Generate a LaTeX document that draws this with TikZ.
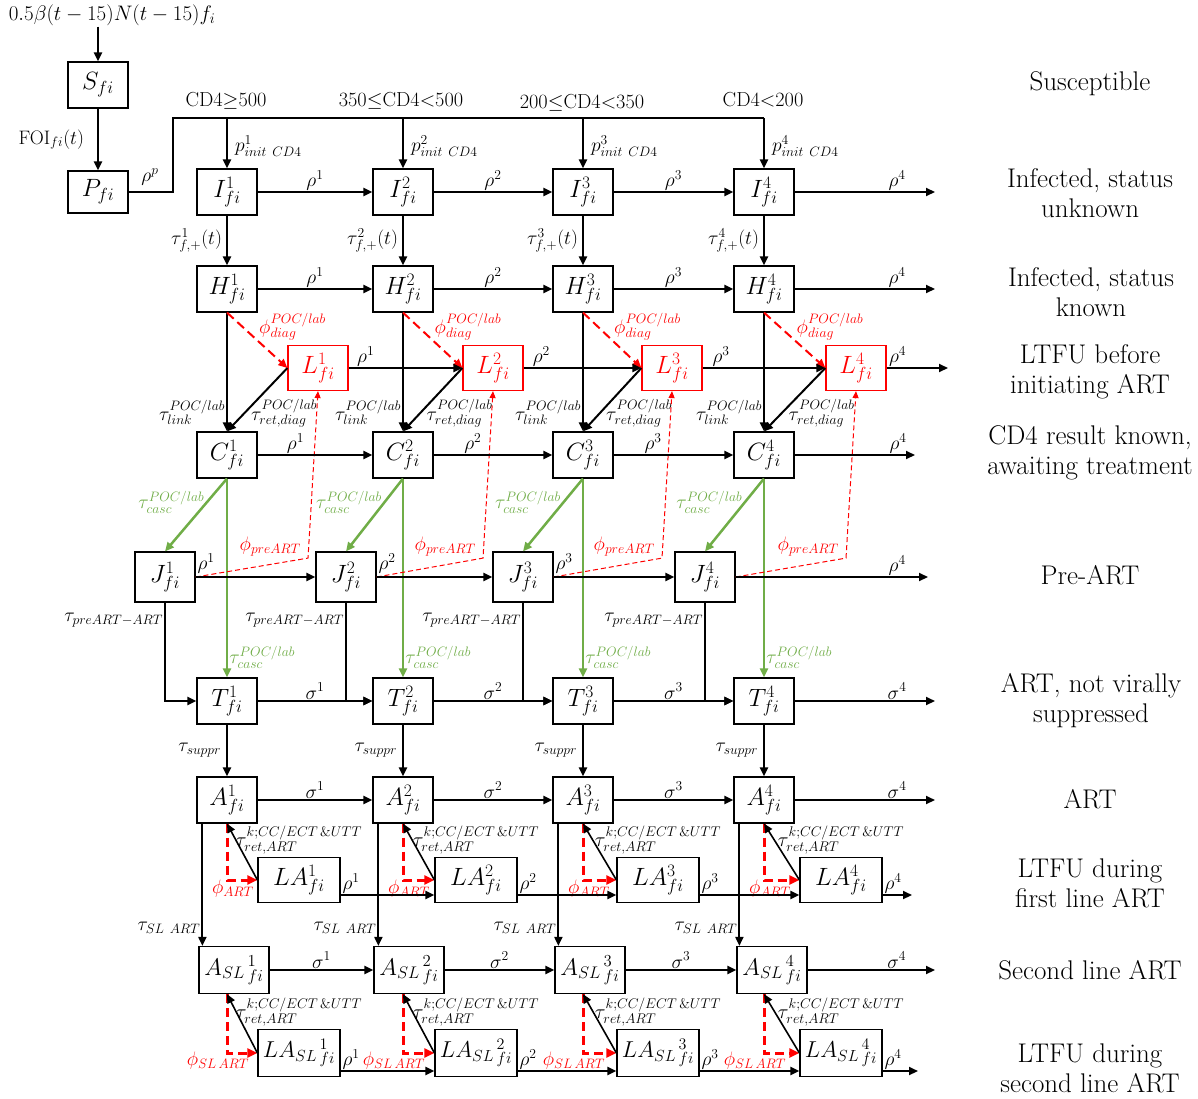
\RequirePackage{fix-cm}
\documentclass[tikz,border=0pt]{standalone}
\usetikzlibrary{arrows.meta,calc}
\definecolor{offgreen}{HTML}{70AD47}
\definecolor{pured}{HTML}{FF0000}
\tikzset{
 box/.style={draw, line width=1.2pt, minimum width=60pt, minimum height=46pt, inner sep=0pt, font=\fontsize{25}{29}\selectfont},
 arr/.style={line width=2pt, -{Triangle[length=9pt,width=8pt]}},
 lab/.style={font=\fontsize{19.5}{22}\selectfont, inner sep=1pt},
 redlab/.style={lab, text=pured},
 glab/.style={lab, text=offgreen},
 rlab/.style={font=\fontsize{27}{30}\selectfont, align=center},
 cdlab/.style={font=\fontsize{20.3}{23}\selectfont},
 rdash/.style={draw=pured, line width=2pt, dash pattern=on 9pt off 5pt, -{Triangle[length=9pt,width=8pt]}},
 rthin/.style={draw=pured, line width=1pt, dash pattern=on 5pt off 3pt, -{Triangle[length=7pt,width=6pt]}},
 rthick/.style={draw=pured, line width=3pt, dash pattern=on 9pt off 5pt, -{Triangle[length=10pt,width=9pt]}},
 garr/.style={draw=offgreen, line width=2.5pt, -{Triangle[length=9pt,width=8pt]}},
 klab/.style={lab, font=\fontsize{20}{22}\selectfont},
}
\begin{document}
\begin{tikzpicture}[x=1pt,y=-1pt]
\useasboundingbox (0,0) rectangle (1198,1099);

% source, S, P
\node[lab, font=\fontsize{21}{24}\selectfont] (src) at (112,15) {$0.5\beta(t-15)N(t-15)f_i$};
\node[box] (S) at (98,85) {$S_{fi}$};
\node[box, minimum height=42pt] (P) at (98,192) {$P_{fi}$};
\draw[arr] (S |- src.south) -- (S);
\draw[arr] (S) -- node[lab, left, xshift=-12pt]{$\mathrm{FOI}_{fi}(t)$} (P);
\coordinate (b0) at (173,118);
\coordinate (b1) at (764,118);
\draw[line width=2pt] (P.east) -- (b0 |- P.east) -- (b0) -- (b1);
\node[lab] (rp) at (150,177) {$\rho^{p}$};

% CD4 labels
\node[cdlab] (cd1) at (226,101) {CD4$\geq$500};
\node[cdlab] (cd2) at (401,101) {350$\leq$CD4$<$500};
\node[cdlab] (cd3) at (582,103) {200$\leq$CD4$<$350};
\node[cdlab] (cd4) at (763,100) {CD4$<$200};

% nodes
\foreach \k/\cx/\lx/\jx/\lax/\ax in {1/227/318/165/299/234, 2/403/493/346/476/409, 3/583/672/523/658/590, 4/764/856/705/841/772}{
 \node[box] (I\k) at (\cx,192) {$I^{\k}_{fi}$};
 \node[box] (H\k) at (\cx,289) {$H^{\k}_{fi}$};
 \node[box, draw=pured, text=pured, minimum height=45pt] (L\k) at (\lx,368) {$L^{\k}_{fi}$};
 \node[box] (C\k) at (\cx,455) {$C^{\k}_{fi}$};
 \node[box, minimum height=50pt] (J\k) at (\jx,577) {$J^{\k}_{fi}$};
 \node[box] (T\k) at (\cx,701) {$T^{\k}_{fi}$};
 \node[box] (A\k) at (\cx,800) {$A^{\k}_{fi}$};
 \node[box, minimum width=82pt, minimum height=45pt] (LA\k) at (\lax,880) {$LA^{\k}_{fi}$};
 \node[box, minimum width=70pt, minimum height=47pt, font=\fontsize{24}{28}\selectfont] (AS\k) at (\ax,970) {$A_{SL\,}{}^{\k}_{fi}$};
 \node[box, minimum width=82pt, minimum height=47pt, font=\fontsize{23}{27}\selectfont] (LS\k) at (\lax,1053) {$LA_{SL\,}{}^{\k}_{fi}$};
}

% per-column edges
\foreach \k in {1,2,3,4}{
 \draw[arr] (I\k |- b0) -- node[lab, right, xshift=6pt, pos=0.55]{$p^{\k}_{init\ CD4}$} (I\k);
 \draw[arr] (I\k) -- node[lab, left, xshift=-3pt]{$\tau^{\k}_{f,+}(t)$} (H\k);
 \draw[arr] (H\k) -- node[lab, left, pos=0.84]{$\tau^{POC/lab}_{link}$} (C\k);
 \draw[rdash] (H\k.south) -- node[redlab, pos=0.5, anchor=south west, yshift=-2pt]{$\phi^{POC/lab}_{diag}$} (L\k.west);
 \draw[arr] (L\k.west) -- node[lab, pos=0.5, anchor=north west, xshift=-8pt, yshift=2pt]{$\tau^{POC/lab}_{ret,diag}$} (C\k.north);
 \draw[garr] (C\k.south) -- node[glab, left, pos=0.33]{$\tau^{POC/lab}_{casc}$} (J\k.north);
 \draw[garr] (C\k.south) -- node[glab, right, pos=0.9]{$\tau^{POC/lab}_{casc}$} (T\k.north);
 \coordinate (jc\k) at ($(L\k.south)+(-10,167)$);
 \draw[rthin] (J\k.east) -- (jc\k) -- (L\k.south);
 \node[redlab, anchor=east] (pp\k) at ($(L\k.south)+(-16,155)$) {$\phi_{preART}$};
 \draw[arr] (J\k.south) |- node[lab, left, pos=0.09]{$\tau_{preART-ART}$} (T\k.west);
 \draw[arr] (T\k) -- node[lab, left, xshift=-4pt]{$\tau_{suppr}$} (A\k);
 \coordinate (ad\k) at ([xshift=6pt]A\k.south west);
 \draw[arr] (ad\k) -- node[lab, left, pos=0.85]{$\tau_{SL\ ART}$} (ad\k |- AS\k.north);
 \draw[rthick] (A\k.south) |- (LA\k.west);
 \node[redlab] (pa\k) at ($(A\k.south |- LA\k.west)+(6,9)$) {$\phi_{ART}$};
 \draw[arr, line width=1.6pt] (LA\k.west) -- (A\k.south);
 \node[klab] (ra\k) at ($(LA\k.north)+(0,-17)$) {$\tau^{k;CC/ECT\,\&UTT}_{ret,ART}$};
 \coordinate (as\k) at (A\k.south |- AS\k.south);
 \draw[rthick] (as\k) |- (LS\k.west);
 \node[redlab] (ps\k) at ($(as\k |- LS\k.west)+(-9,8)$) {$\phi_{SL\,ART}$};
 \draw[arr, line width=1.6pt] (LS\k.west) -- (as\k);
 \node[klab] (rs\k) at ($(LS\k.north)+(0,-17)$) {$\tau^{k;CC/ECT\,\&UTT}_{ret,ART}$};
}

% horizontal progression
\foreach \k/\n in {1/2,2/3,3/4}{
 \draw[arr] (I\k) -- node[lab, above]{$\rho^{\k}$} (I\n);
 \draw[arr] (H\k) -- node[lab, above]{$\rho^{\k}$} (H\n);
 \draw[arr] (L\k) -- node[lab, above, pos=0.15]{$\rho^{\k}$} (L\n);
 \draw[arr] (C\k) -- node[lab, above, pos=0.33]{$\rho^{\k}$} (C\n);
 \draw[arr] (J\k) -- node[lab, above right, pos=0, yshift=2pt]{$\rho^{\k}$} (J\n);
 \draw[arr] (T\k) -- node[lab, above]{$\sigma^{\k}$} (T\n);
 \draw[arr] (A\k) -- node[lab, above]{$\sigma^{\k}$} (A\n);
 \draw[arr] ([yshift=-15pt]LA\k.east) -- node[lab, above right, pos=0]{$\rho^{\k}$} ([yshift=-15pt]LA\n.west);
 \draw[arr] (AS\k) -- node[lab, above]{$\sigma^{\k}$} (AS\n);
 \draw[arr] ([yshift=-18pt]LS\k.east) -- node[lab, above right, pos=0]{$\rho^{\k}$} ([yshift=-18pt]LS\n.west);
}

% outgoing from column 4
\coordinate (oI) at (935,192);
\coordinate (oH) at (935,289);
\coordinate (oL) at (948,368);
\coordinate (oC) at (915,455);
\coordinate (oJ) at (928,577);
\coordinate (oT) at (935,701);
\coordinate (oA) at (935,800);
\coordinate (oLA) at (912,895);
\coordinate (oAS) at (935,970);
\coordinate (oLS) at (918,1071);
\draw[arr] (I4) -- node[lab, above, pos=0.73]{$\rho^{4}$} (oI);
\draw[arr] (H4) -- node[lab, above, pos=0.73]{$\rho^{4}$} (oH);
\draw[arr] (L4) -- node[lab, above, pos=0.18]{$\rho^{4}$} (oL);
\draw[arr] (C4) -- node[lab, above, pos=0.86]{$\rho^{4}$} (oC);
\draw[arr] (J4) -- node[lab, above, pos=0.84]{$\rho^{4}$} (oJ);
\draw[arr] (T4) -- node[lab, above, pos=0.73]{$\sigma^{4}$} (oT);
\draw[arr] (A4) -- node[lab, above, pos=0.73]{$\sigma^{4}$} (oA);
\draw[arr] ([yshift=-15pt]LA4.east) -- node[lab, above right, pos=0]{$\rho^{4}$} (oLA);
\draw[arr] (AS4) -- node[lab, above, pos=0.7]{$\sigma^{4}$} (oAS);
\draw[arr] ([yshift=-18pt]LS4.east) -- node[lab, above right, pos=0]{$\rho^{4}$} (oLS);

% right-hand state labels
\node[rlab] (s1) at (1090,84) {Susceptible};
\node[rlab] (s2) at (1090,193) {Infected, status\\unknown};
\node[rlab] (s3) at (1091,292) {Infected, status\\known};
\node[rlab] (s4) at (1090,372) {LTFU before\\initiating ART};
\node[rlab] (s5) at (1090,453) {CD4 result known,\\awaiting treatment};
\node[rlab] (s6) at (1090,575) {Pre-ART};
\node[rlab] (s7) at (1091,701) {ART, not virally\\suppressed};
\node[rlab] (s8) at (1090,799) {ART};
\node[rlab] (s9) at (1090,883) {LTFU during\\first line ART};
\node[rlab] (s10) at (1090,970) {Second line ART};
\node[rlab] (s11) at (1090,1068) {LTFU during\\second line ART};
\end{tikzpicture}
\end{document}
